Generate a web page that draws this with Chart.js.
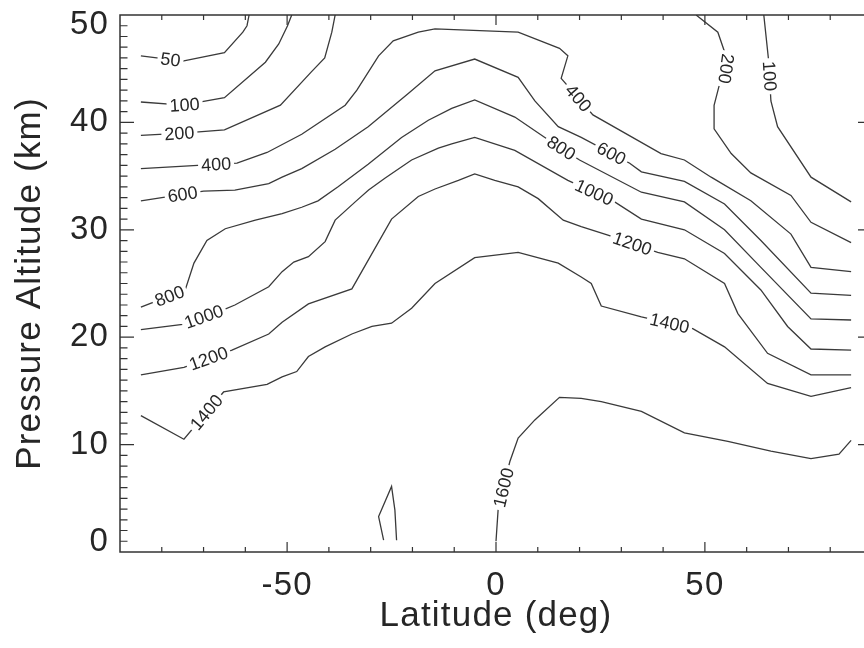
<!DOCTYPE html>
<html>
<head>
<meta charset="utf-8">
<script src="https://cdn.jsdelivr.net/npm/chart.js@4.4.1/dist/chart.umd.min.js"></script>
<style>
  html, body { margin: 0; padding: 0; background: #fff; overflow: hidden; }
  canvas { display: block; }
</style>
</head>
<body>
<canvas id="contourChart" width="880" height="648"></canvas>
<script>
// Contour levels: [latitude (deg), pressure altitude (km)]
const c50 = [[-85,46.2],[-75,45.7],[-65,46.5],[-60.6,48.4],[-59.6,49.0],[-59.1,50]];
const c100a = [[-85,41.9],[-75,41.6],[-65,42.3],[-55.2,45.6],[-52,47.3],[-49.9,49.0],[-48.9,50]];
const c100b = [[64.1,50],[65.3,45.6],[65.8,42.0],[67.4,39.6],[75.4,34.9],[85,32.6]];
const c200a = [[-85,38.8],[-75,39.0],[-65,39.3],[-51.6,41.6],[-44.2,44.7],[-41,46],[-39.3,48.4],[-38.5,50]];
const c200b = [[47.9,50],[53.1,48.4],[54.6,46.7],[55.1,45.0],[53.4,43.4],[52.2,41.6],[52.2,39.4],[56.3,37.1],[61.0,35.3],[70.6,33.2],[75.4,30.7],[85,28.8]];
const c400 = [[-85,35.7],[-62,36.2],[-54.8,37.2],[-46.5,38.9],[-36.1,41.6],[-33.3,43.0],[-28.1,46.2],[-24.6,47.6],[-18.6,48.4],[-14.6,48.7],[5.3,48.4],[15.2,46.9],[17.2,46.2],[15.6,44.1],[23.2,40.7],[39.5,37.1],[45.1,36.5],[51.5,34.9],[61,32.7],[70.6,29.6],[75.4,26.5],[85,26.1]];
const c600 = [[-85,32.7],[-70,33.6],[-62.5,33.7],[-54.4,34.3],[-51.2,34.9],[-46.5,35.7],[-38.5,37.5],[-30.6,39.6],[-21.0,42.7],[-14.6,44.8],[-5.1,45.9],[5.3,44.2],[9.3,42.0],[14.9,39.6],[20.4,38.6],[32,36.2],[34.8,35.4],[45.1,34.5],[54.7,32.4],[63.4,29.0],[75.4,24.1],[85,23.9]];
const c800 = [[-85,22.8],[-74.4,24.4],[-72.3,26.9],[-69.2,29.0],[-64.8,30.1],[-57.6,30.9],[-51.2,31.5],[-46.5,32.1],[-42.6,32.7],[-37.8,34.0],[-30.6,36.1],[-22.6,38.6],[-16.2,40.2],[-10.6,41.3],[-5.1,42.1],[4.5,40.5],[11.7,38.6],[20,36.5],[34.8,33.5],[45.1,32.6],[54.7,30.0],[63.4,26.5],[75.4,21.7],[85,21.6]];
const c1000 = [[-85,20.7],[-75,21.2],[-65,22.6],[-62.5,23.0],[-54.4,24.7],[-51.2,26.1],[-48.4,27.0],[-44.9,27.5],[-40.9,28.9],[-38.5,30.9],[-33.7,32.6],[-30.5,33.7],[-26.6,34.8],[-20.2,36.5],[-13.8,37.6],[-10.6,38.0],[-5.1,38.6],[4.5,37.4],[17.2,34.6],[28.4,32.6],[34.8,31.0],[45.1,30.0],[54.7,27.8],[63.4,24.4],[69.8,21.0],[75.4,18.9],[85,18.8]];
const c1200 = [[-85,16.5],[-74.7,17.2],[-63.2,18.8],[-54.4,20.3],[-51.2,21.4],[-44.9,23.1],[-34.5,24.5],[-25,31.0],[-18.6,33.1],[-14.6,33.8],[-9.0,34.6],[-5.1,35.2],[-0.3,34.6],[5.3,34.0],[10.1,32.9],[16.1,30.9],[20.4,30.3],[26.8,29.5],[38.7,27.9],[45.1,27.3],[54.7,25.0],[57.9,22.2],[65,18.5],[75.4,16.5],[85,16.5]];
const c1400 = [[-85,12.7],[-74.7,10.5],[-65.2,14.9],[-54.8,15.6],[-51.2,16.3],[-47.7,16.8],[-44.9,18.2],[-40.9,19.1],[-34.5,20.3],[-29.7,21.0],[-25,21.3],[-20.2,22.7],[-14.6,25.0],[-5.1,27.4],[5.3,27.9],[14.9,26.9],[20.4,25.6],[22.8,25.0],[25.2,22.9],[34.8,21.9],[47.1,20.8],[54.7,19.1],[65,15.7],[75.4,14.5],[85,15.3]];
const c1600 = [[0,1.0],[0.5,3.9],[3.3,8.4],[5.3,10.6],[9.3,12.3],[15.2,14.4],[20.4,14.3],[25.2,14.0],[34.8,13.1],[45.1,11.1],[55.5,10.3],[65.8,9.4],[75.4,8.7],[82.1,9.1],[85,10.4]];
const c1600loop = [[-26.9,1.1],[-28.1,3.3],[-25,6.1],[-24.2,3.9],[-23.8,1.1]];

const contourLines = [c50, c100a, c100b, c200a, c200b, c400, c600, c800, c1000, c1200, c1400, c1600, c1600loop];

// Contour labels: text, the line it sits on, and where along it (lat, alt)
const contourLabels = [
    { text: '50',   line: c50,   at: [-77.9, 45.9] },
    { text: '100',  line: c100a, at: [-74.5, 41.6] },
    { text: '200',  line: c200a, at: [-75.8, 39.1] },
    { text: '400',  line: c400,  at: [-67.0, 36.1] },
    { text: '600',  line: c600,  at: [-74.9, 33.0] },
    { text: '800',  line: c800,  at: [-78.1, 23.8] },
    { text: '1000', line: c1000, at: [-69.9, 21.9] },
    { text: '1200', line: c1200, at: [-68.8, 18.0] },
    { text: '1400', line: c1400, at: [-69.3, 13.0] },
    { text: '400',  line: c400,  at: [19.2, 42.1] },
    { text: '800',  line: c800,  at: [15.6, 37.6] },
    { text: '600',  line: c600,  at: [27.6, 37.1] },
    { text: '1000', line: c1000, at: [23.5, 33.5] },
    { text: '1200', line: c1200, at: [32.6, 28.7] },
    { text: '1400', line: c1400, at: [41.6, 21.4] },
    { text: '200',  line: c200b, at: [55.1, 45.0] },
    { text: '100',  line: c100b, at: [65.5, 44.3] },
    { text: '1600', line: c1600, at: [1.8, 6.0] }
];

const xTicks = [-50, 0, 50];
const yTicks = [0, 10, 20, 30, 40, 50];

const FONT = "'Liberation Sans', Arial, Helvetica, sans-serif";
const INK = '#262626';
const LINE = '#3a3a3a';

// arc-length helpers for placing labels along a polyline (pixel space)
function walkLine(pts) {
    const cum = [0];
    for (let i = 1; i < pts.length; i++) {
        cum.push(cum[i - 1] + Math.hypot(pts[i].x - pts[i - 1].x, pts[i].y - pts[i - 1].y));
    }
    const pointAt = (s) => {
        s = Math.max(0, Math.min(cum[cum.length - 1], s));
        for (let i = 1; i < pts.length; i++) {
            if (s <= cum[i]) {
                const L = cum[i] - cum[i - 1];
                const t = L ? (s - cum[i - 1]) / L : 0;
                return { x: pts[i - 1].x + t * (pts[i].x - pts[i - 1].x), y: pts[i - 1].y + t * (pts[i].y - pts[i - 1].y) };
            }
        }
        return pts[pts.length - 1];
    };
    const nearest = (cx, cy) => {
        let best = { d: Infinity, s: 0 };
        for (let i = 1; i < pts.length; i++) {
            const dx = pts[i].x - pts[i - 1].x, dy = pts[i].y - pts[i - 1].y;
            const L2 = dx * dx + dy * dy;
            let t = L2 ? ((cx - pts[i - 1].x) * dx + (cy - pts[i - 1].y) * dy) / L2 : 0;
            t = Math.max(0, Math.min(1, t));
            const d = Math.hypot(cx - (pts[i - 1].x + t * dx), cy - (pts[i - 1].y + t * dy));
            if (d < best.d) best = { d, s: cum[i - 1] + t * Math.sqrt(L2) };
        }
        return best.s;
    };
    return { pointAt, nearest };
}

const frameAndLabels = {
    id: 'frameAndLabels',
    beforeDraw(chart) {
        chart.ctx.letterSpacing = '1.2px';
    },
    afterDatasetsDraw(chart) {
        const { ctx, chartArea } = chart;
        const xs = chart.scales.x, ys = chart.scales.y;

        // contour labels with a white gap behind them
        ctx.save();
        ctx.letterSpacing = '0px';
        ctx.font = `18px ${FONT}`;
        ctx.textAlign = 'center';
        ctx.textBaseline = 'middle';
        contourLabels.forEach(lab => {
            const pts = lab.line.map(([x, y]) => ({ x: xs.getPixelForValue(x), y: ys.getPixelForValue(y) }));
            const w = walkLine(pts);
            const s = w.nearest(xs.getPixelForValue(lab.at[0]), ys.getPixelForValue(lab.at[1]));
            const tw = ctx.measureText(lab.text).width;
            const c = w.pointAt(s);
            const a = w.pointAt(s - tw / 2 - 2), b = w.pointAt(s + tw / 2 + 2);
            const ang = Math.atan2(b.y - a.y, b.x - a.x);
            ctx.save();
            ctx.translate(c.x, c.y);
            ctx.rotate(ang);
            ctx.fillStyle = '#fff';
            ctx.fillRect(-tw / 2 - 3, -8, tw + 6, 16);
            ctx.fillStyle = INK;
            ctx.fillText(lab.text, 0, 1);
            ctx.restore();
        });
        ctx.restore();

        // box and inward tick marks on all four sides
        ctx.save();
        ctx.strokeStyle = '#333';
        ctx.lineWidth = 1.5;
        const { left, right, top, bottom } = chartArea;
        ctx.strokeRect(left, top, right - left, bottom - top);
        ctx.lineWidth = 1.2;
        ctx.beginPath();
        for (let v = -80; v <= 80; v += 10) {
            const p = xs.getPixelForValue(v);
            const len = xTicks.includes(v) ? 10 : 5;
            ctx.moveTo(p, bottom); ctx.lineTo(p, bottom - len);
            ctx.moveTo(p, top); ctx.lineTo(p, top + len);
        }
        for (let v = 1; v < 50; v += 1) {
            const p = ys.getPixelForValue(v);
            const len = yTicks.includes(v) ? 14 : 7.5;
            ctx.moveTo(left, p); ctx.lineTo(left + len, p);
            ctx.moveTo(right, p); ctx.lineTo(right - len, p);
        }
        ctx.stroke();
        ctx.restore();
    }
};

new Chart(document.getElementById('contourChart'), {
    type: 'scatter',
    data: {
        datasets: contourLines.map(line => ({
            data: line.map(([x, y]) => ({ x, y })),
            showLine: true,
            borderColor: LINE,
            borderWidth: 1.3,
            pointRadius: 0,
            tension: 0,
            fill: false
        }))
    },
    options: {
        responsive: false,
        animation: false,
        events: [],
        layout: { padding: { left: 0, top: 15, right: 8, bottom: 0 } },
        plugins: {
            legend: { display: false },
            tooltip: { enabled: false }
        },
        scales: {
            x: {
                type: 'linear',
                min: -90,
                max: 90,
                afterBuildTicks: (scale) => { scale.ticks = xTicks.map(v => ({ value: v })); },
                afterFit: (scale) => {
                    scale.height = 96;
                    scale.paddingLeft = 0;
                    scale.paddingRight = 0;
                },
                grid: { display: false, drawTicks: false },
                border: { display: false },
                ticks: { padding: 14, color: INK, font: { family: FONT, size: 33 } },
                title: {
                    display: true,
                    text: 'Latitude (deg)',
                    color: INK,
                    font: { family: FONT, size: 35 },
                    padding: { top: 0, bottom: 10.5 }
                }
            },
            y: {
                type: 'linear',
                min: 0,
                max: 50,
                afterBuildTicks: (scale) => { scale.ticks = yTicks.map(v => ({ value: v })); },
                afterFit: (scale) => {
                    scale.width = 120;
                    scale.paddingTop = 0;
                    scale.paddingBottom = 0;
                },
                grid: { display: false, drawTicks: false },
                border: { display: false },
                ticks: {
                    padding: 11,
                    color: INK,
                    font: { family: FONT, size: 33, lineHeight: 0.6 },
                    // end labels sit inside the axis range, as in the original figure
                    callback: (v) => v === 50 ? ['', '50'] : v === 0 ? ['0', ''] : String(v)
                },
                title: {
                    display: true,
                    text: 'Pressure Altitude (km)',
                    color: INK,
                    font: { family: FONT, size: 35 },
                    padding: { top: 9, bottom: 0 }
                }
            }
        }
    },
    plugins: [frameAndLabels]
});
</script>
</body>
</html>
